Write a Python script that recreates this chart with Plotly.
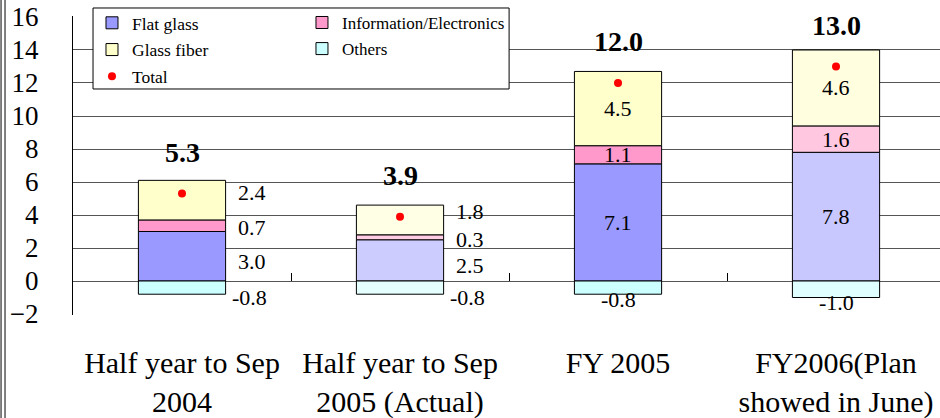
import plotly.graph_objects as go

categories = ["Half year to Sep<br>2004", "Half year to Sep<br>2005 (Actual)", "FY 2005", "FY2006(Plan<br>showed in June)"]
flat_glass = [3.0, 2.5, 7.1, 7.8]
info_elec = [0.7, 0.3, 1.1, 1.6]
glass_fiber = [2.4, 1.8, 4.5, 4.6]
others = [-0.8, -0.8, -0.8, -1.0]
totals = [5.3, 3.9, 12.0, 13.0]

# colours: results (dark) vs plan/actual (light)
flat_colors = ["#9999FF", "#CCCCFF", "#9999FF", "#C8C8FF"]
info_colors = ["#FF99CC", "#FFCCE5", "#FF99CC", "#FFC8E0"]
fiber_colors = ["#FFFFCC", "#FFFFE5", "#FFFFCC", "#FFFFE0"]
other_colors = ["#CCFFFF", "#E5FFFF", "#CCFFFF", "#E0FFFF"]

FONT = "Liberation Serif, Times New Roman, serif"
xs = list(range(len(categories)))

fig = go.Figure()
series = [
    ("Flat glass", flat_glass, flat_colors, "legend"),
    ("Information/Electronics", info_elec, info_colors, "legend2"),
    ("Glass fiber", glass_fiber, fiber_colors, "legend"),
    ("Others", others, other_colors, "legend2"),
]
for name, vals, cols, leg in series:
    fig.add_trace(go.Bar(x=xs, y=vals, name=name, legend=leg, legendgroup=name, width=0.4,
                         marker=dict(color=cols, line=dict(color="#000000", width=1))))
fig.add_trace(go.Scatter(x=xs, y=totals, name="Total", mode="markers", legend="legend", legendgroup="Total",
                         marker=dict(color="#FF0000", size=8)))
# invisible trace so the zero-line tick axis gets drawn
fig.add_trace(go.Scatter(x=[0.5], y=[0], xaxis="x2", mode="markers", showlegend=False,
                         marker=dict(opacity=0), hoverinfo="skip"))

lbl_font = dict(family=FONT, size=22, color="#000000")
side_shift = [-5, -2, 8]  # flat, info, fiber labels beside the first two bars
annotations = []
for i in xs:
    annotations.append(dict(x=i, y=totals[i], text=f"<b>{totals[i]:.1f}</b>", showarrow=False,
                            yshift=41, font=dict(family=FONT, size=28, color="#000000")))
    bottom = 0
    for k, vals in enumerate((flat_glass, info_elec, glass_fiber)):
        mid = bottom + vals[i] / 2
        bottom += vals[i]
        if i < 2:
            annotations.append(dict(x=i, y=mid, text=f"{vals[i]:.1f}", showarrow=False, xanchor="left",
                                    xshift=54, yshift=side_shift[k], font=lbl_font))
        else:
            annotations.append(dict(x=i, y=mid, text=f"{vals[i]:.1f}", showarrow=False, font=lbl_font))
    if i < 2:
        annotations.append(dict(x=i, y=others[i], text=f"{others[i]:.1f}", showarrow=False, xanchor="left",
                                xshift=48, yshift=-3, font=lbl_font))
    else:
        annotations.append(dict(x=i, y=others[i], text=f"{others[i]:.1f}", showarrow=False,
                                yshift=-5, font=lbl_font))

# plot area is 299px high, y range 18.12 -> 16.5 px per unit
shapes = [
    dict(type="rect", xref="paper", yref="paper", x0=0.0231, x1=0.503, y0=0.7559, y1=1.0268,
         fillcolor="#FFFFFF", line=dict(color="#000000", width=1), layer="above"),
    dict(type="line", xref="paper", yref="paper", x0=-0.0830, x1=-0.0830, y0=-0.36, y1=1.06,
         line=dict(color="#000000", width=1)),
    dict(type="line", xref="paper", yref="paper", x0=-0.0784, x1=-0.0784, y0=-0.36, y1=1.06,
         line=dict(color="#000000", width=1)),
]

fig.update_layout(
    width=940, height=418,
    margin=dict(l=73, r=0, t=16, b=103, autoexpand=False),
    barmode="relative",
    paper_bgcolor="#FFFFFF", plot_bgcolor="#FFFFFF",
    font=dict(family=FONT, color="#000000"),
    xaxis=dict(range=[-0.5, 3.477], tickvals=xs, ticktext=categories, showgrid=False, zeroline=False,
               showline=False, ticks="", tickfont=dict(size=30), ticklabelstandoff=27),
    xaxis2=dict(overlaying="x", anchor="free", position=2.06 / 18.12, range=[-0.5, 3.477],
                tickvals=[0.5, 1.5, 2.5], ticks="inside", ticklen=8, tickcolor="#000000",
                showticklabels=False, showgrid=False, zeroline=False, showline=False),
    yaxis=dict(range=[-2.06, 16.06], tickvals=list(range(-2, 17, 2)), showgrid=True, gridcolor="#555555",
               gridwidth=1, zeroline=False, showline=True, linecolor="#000000", linewidth=1, ticks="",
               tickfont=dict(size=27), ticklabelstandoff=28),
    legend=dict(x=0.0219, y=1.037, xanchor="left", yanchor="top", bgcolor="rgba(0,0,0,0)",
                font=dict(size=17.5), traceorder="grouped", tracegroupgap=1),
    legend2=dict(x=0.2641, y=1.037, xanchor="left", yanchor="top", bgcolor="rgba(0,0,0,0)",
                 font=dict(size=17), traceorder="grouped", tracegroupgap=1),
    annotations=annotations,
    shapes=shapes,
)

fig.write_html("out.html", config={"displayModeBar": False},
               post_script="document.body.style.margin='0';")
